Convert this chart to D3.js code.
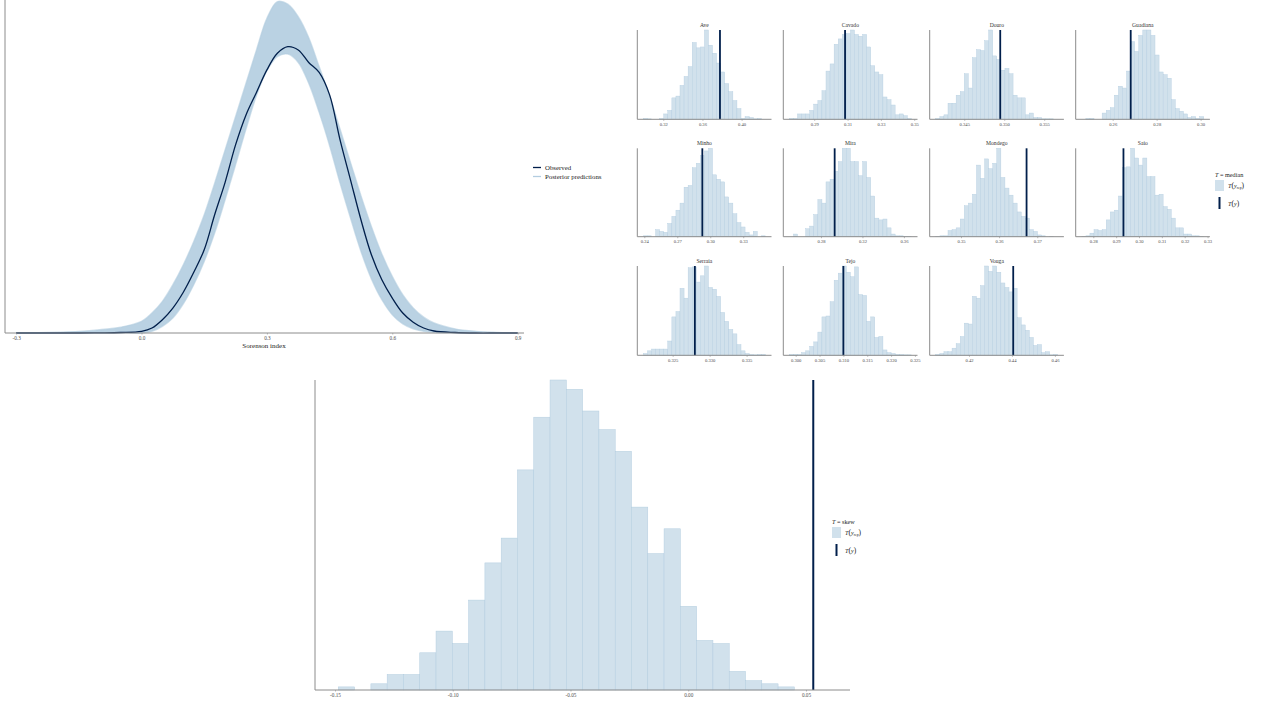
<!DOCTYPE html>
<html><head><meta charset="utf-8">
<script src="https://cdn.jsdelivr.net/npm/d3@7"></script>
<style>
body{margin:0;background:#fff}
svg{display:block}
text{font-family:"Liberation Serif","DejaVu Serif",serif}
</style></head>
<body><svg id="c" width="1269" height="711"></svg>
<script>
// ---------- DATA ----------
// density overlay (top-left)
const densX = [-0.3,-0.25,-0.2,-0.15,-0.1,-0.05,0,0.025,0.05,0.075,0.1,0.125,0.15,0.175,0.2,0.225,0.25,0.275,0.3,0.325,0.35,0.375,0.4,0.425,0.45,0.475,0.5,0.525,0.55,0.575,0.6,0.625,0.65,0.675,0.7,0.75,0.8,0.85,0.9];
const observed = [0,0,0,0,0.002,0.006,0.02,0.06,0.16,0.30,0.49,0.73,1.0,1.42,1.81,2.26,2.62,2.89,3.16,3.36,3.44,3.40,3.25,3.13,2.86,2.32,1.84,1.36,0.94,0.64,0.42,0.24,0.13,0.06,0.024,0.006,0,0,0];
const postUpper = [0.002,0.004,0.01,0.02,0.04,0.07,0.14,0.24,0.38,0.58,0.82,1.1,1.42,1.8,2.2,2.6,3.0,3.4,3.78,3.98,3.95,3.8,3.55,3.2,2.85,2.45,2.05,1.65,1.28,0.95,0.68,0.46,0.3,0.19,0.12,0.05,0.02,0.008,0.002];
const postLower = [0,0,0,0,0,0,0,0.02,0.08,0.18,0.35,0.58,0.86,1.2,1.6,2.02,2.45,2.85,3.15,3.32,3.35,3.25,3.0,2.65,2.25,1.8,1.38,0.98,0.65,0.4,0.22,0.11,0.05,0.02,0.008,0,0,0,0];
const densTicks = [-0.3,0,0.3,0.6,0.9];

// grouped medians (top-right facets)
const groups = ["Ave","Cavado","Douro","Guadiana","Minho","Mira","Mondego","Saio","Serraia","Tejo","Vouga"];
const groupRange = [[0.2997,0.4243],[0.2751,0.3483],[0.34144,0.3567],[0.24595,0.30145],[0.23918,0.35018],[0.24954,0.36723],[0.3434,0.37539],[0.27497,0.32836],[0.32104,0.33754],[0.29868,0.32426],[0.40456,0.46135]];
const groupTy = [0.3779,0.3085,0.3495,0.2682,0.2928,0.2932,0.3672,0.2932,0.3280,0.3100,0.4406];
const groupTicks = [[0.32,0.36,0.40],[0.29,0.31,0.33,0.35],[0.345,0.350,0.355],[0.26,0.28,0.30],[0.24,0.27,0.30,0.33],[0.28,0.32,0.36],[0.35,0.36,0.37],[0.28,0.29,0.30,0.31,0.32,0.33],[0.325,0.330,0.335],[0.300,0.305,0.310,0.315,0.320,0.325],[0.42,0.44,0.46]];
const groupTickDigits = [2,2,3,2,2,2,2,2,3,3,2];
const groupCounts = [
 [1,0.5,0,0,1,6,10,24,26,38,48,59,86,80,81,100,83,74,63,53,40,31,21,12,1,3,2,0.5,1,0],
 [1,1,6,6,6,10,17,21,32,54,62,84,90,95,96,100,95,93,95,81,60,53,50,25,22,16,5,6,4,1],
 [1,3,5,18,18,27,31,51,35,69,78,77,88,100,71,67,55,57,51,27,24,24,5,7,2,2,0.5,0.5,0.5,0],
 [0,1,1,0,0,7,10,13,27,37,35,54,87,76,94,100,100,94,72,53,50,46,22,12,9,6,2,3,1,3],
 [1,1,0,8,6,5,15,23,30,38,56,58,78,83,92,97,100,70,65,62,45,38,26,16,11,5,2,6,0,1],
 [0,3,0,0,9,12,25,42,38,62,65,74,85,100,100,85,85,69,85,67,46,21,19,20,10,3,1,1,0.5,0.5],
 [0.5,1,1,7,8,10,20,35,38,48,81,66,88,77,83,100,67,55,47,38,28,23,21,8,6,2,1,0,0.5,0],
 [0.5,1,4,8,7,8,19,28,30,46,78,79,100,89,81,89,68,68,47,48,34,31,21,10,10,3,3,1,1,0.5],
 [2,5,7,7,7,7,16,43,49,75,64,98,99,82,89,100,76,74,66,48,38,29,24,12,5,2,1,0.5,1,1],
 [1,1,1,3,5,10,15,26,43,44,60,84,92,100,93,88,99,68,67,38,43,20,21,6,3,2,1,1,0.5,0.5],
 [1,2,4,4,8,13,21,36,35,66,64,78,100,94,100,93,81,76,71,75,42,34,28,20,11,12,3,4,0.5,1]
];

// skew (bottom)
const skewStart = -0.1486, skewBinWidth = 0.006917;
const skewCounts = [1,0,2,5,5,12,19,15,29,41,49,71,88,100,97,90,84,77,59,44,52,27,16,15,6,3,2,1];
const skewTy = 0.0531;
const skewDomain = [-0.1585, 0.0687];
const skewTicks = [-0.15,-0.10,-0.05,0.00,0.05];

// ---------- STYLE ----------
const C_DARK = "#011f4b", C_LIGHT = "#d1e1ec", C_LIGHT_HI = "#b3cde0", AX = "#8c8c8c", TXT = "#4d4d4d";
const svg = d3.select("#c");
svg.append("rect").attr("width",1269).attr("height",711).attr("fill","#fff");
const fmt = dig => d => d.toFixed(dig).replace("\u2212","-");

function drawAxisBottom(g, scale, ticks, digits, y, fs){
  const ax = g.append("g").attr("transform",`translate(0,${y})`)
    .call(d3.axisBottom(scale).tickValues(ticks).tickFormat(fmt(digits)).tickSize(1.5).tickPadding(2));
  ax.select(".domain").remove();
  ax.selectAll(".tick line").attr("stroke",AX).attr("stroke-width",0.6);
  ax.selectAll(".tick text").attr("font-size",fs).attr("fill",TXT).attr("font-family","Liberation Serif, serif");
  const r = scale.range();
  g.append("line").attr("x1",r[0]).attr("x2",r[1]).attr("y1",y).attr("y2",y).attr("stroke",AX).attr("stroke-width",1);
}

// ---------- DENSITY OVERLAY ----------
{
  const g = svg.append("g");
  const x = d3.scaleLinear().domain([-0.3266,0.9151]).range([5,524]);
  const y = d3.scaleLinear().domain([0,4.0]).range([333,0]);
  const pts = densX.map((v,i)=>({v, up:postUpper[i], lo:postLower[i], ob:observed[i]}));
  g.append("path").datum(pts).attr("fill",C_LIGHT_HI).attr("opacity",0.9)
    .attr("d", d3.area().x(d=>x(d.v)).y0(d=>y(d.lo)).y1(d=>y(d.up)).curve(d3.curveCatmullRom));
  [["up"],["lo"]].forEach(([k])=>{
    g.append("path").datum(pts).attr("fill","none").attr("stroke",C_LIGHT_HI).attr("stroke-width",1.4).attr("opacity",0.6)
      .attr("d", d3.line().x(d=>x(d.v)).y(d=>y(d[k])).curve(d3.curveCatmullRom));
  });
  g.append("path").datum(pts).attr("fill","none").attr("stroke",C_DARK).attr("stroke-width",1.3)
    .attr("d", d3.line().x(d=>x(d.v)).y(d=>y(d.ob)).curve(d3.curveCatmullRom));
  g.append("line").attr("x1",5).attr("x2",5).attr("y1",0).attr("y2",333).attr("stroke",AX).attr("stroke-width",1);
  drawAxisBottom(g, x, densTicks, 1, 333, 5.2);
  g.append("text").attr("x",264).attr("y",348).attr("text-anchor","middle").attr("font-size",7).attr("fill","#222").text("Sorenson index");
  // legend
  const lg = [["Observed",C_DARK],["Posterior predictions",C_LIGHT_HI]];
  lg.forEach((d,i)=>{
    const yy = 167.5 + i*9;
    svg.append("line").attr("x1",533).attr("x2",541).attr("y1",yy).attr("y2",yy).attr("stroke",d[1]).attr("stroke-width",1.3);
    svg.append("text").attr("x",545).attr("y",yy+2.3).attr("font-size",6.8).attr("fill","#222").text(d[0]);
  });
}

// ---------- FACETS ----------
{
  const colL = [637.3,783.3,929.7,1075.7], W = 134.2;
  const rowT = [30,148.3,266], rowB = [119.3,236.7,355.3];
  groups.forEach((name,i)=>{
    const c = i%4, r = Math.floor(i/4);
    const g = svg.append("g");
    const [a,b] = groupRange[i];
    const pad = 0.05*(b-a);
    const x = d3.scaleLinear().domain([a-pad,b+pad]).range([colL[c],colL[c]+W]);
    const counts = groupCounts[i];
    const bw = (b-a)/counts.length;
    const y = d3.scaleLinear().domain([0,d3.max(counts)]).range([rowB[r],rowT[r]]);
    g.selectAll("rect").data(counts).join("rect")
      .attr("x",(d,k)=>x(a+k*bw)).attr("width",(d,k)=>x(a+(k+1)*bw)-x(a+k*bw))
      .attr("y",d=>y(d)).attr("height",d=>y(0)-y(d))
      .attr("fill",C_LIGHT).attr("stroke",C_LIGHT_HI).attr("stroke-width",0.4);
    g.append("line").attr("x1",x(groupTy[i])).attr("x2",x(groupTy[i])).attr("y1",rowT[r]).attr("y2",rowB[r])
      .attr("stroke",C_DARK).attr("stroke-width",1.8);
    g.append("line").attr("x1",colL[c]).attr("x2",colL[c]).attr("y1",rowT[r]).attr("y2",rowB[r]).attr("stroke",AX).attr("stroke-width",1);
    drawAxisBottom(g, x, groupTicks[i], groupTickDigits[i], rowB[r], 4.6);
    g.append("text").attr("x",colL[c]+W/2).attr("y",rowT[r]-3.5).attr("text-anchor","middle").attr("font-size",5.6).attr("fill","#333").text(name);
  });
}

// ---------- legend helper ----------
function statLegend(x0, y0, label){
  const t = svg.append("text").attr("x",x0).attr("y",y0).attr("font-size",6.2).attr("fill","#222");
  t.append("tspan").attr("font-style","italic").text("T");
  t.append("tspan").text(" = "+label);
  svg.append("rect").attr("x",x0).attr("y",y0+3).attr("width",9).attr("height",11).attr("fill",C_LIGHT);
  const t2 = svg.append("text").attr("x",x0+13).attr("y",y0+10.5).attr("font-size",6.2).attr("fill","#222");
  t2.append("tspan").attr("font-style","italic").text("T");
  t2.append("tspan").attr("font-size",7.5).text("(");
  t2.append("tspan").attr("font-style","italic").text("y");
  t2.append("tspan").attr("font-size",3.8).attr("dy",1.5).text("rep");
  t2.append("tspan").attr("font-size",7.5).attr("dy",-1.5).text(")");
  svg.append("line").attr("x1",x0+4.5).attr("x2",x0+4.5).attr("y1",y0+20).attr("y2",y0+32).attr("stroke",C_DARK).attr("stroke-width",2);
  const t3 = svg.append("text").attr("x",x0+13).attr("y",y0+28.5).attr("font-size",6.2).attr("fill","#222");
  t3.append("tspan").attr("font-style","italic").text("T");
  t3.append("tspan").attr("font-size",7.5).text("(");
  t3.append("tspan").attr("font-style","italic").text("y");
  t3.append("tspan").attr("font-size",7.5).text(")");
}
statLegend(1215, 177, "median");

// ---------- SKEW HISTOGRAM ----------
{
  const g = svg.append("g");
  const x = d3.scaleLinear().domain(skewDomain).range([315,850]);
  const y = d3.scaleLinear().domain([0,d3.max(skewCounts)]).range([690,380]);
  g.selectAll("rect").data(skewCounts).join("rect")
    .attr("x",(d,k)=>x(skewStart+k*skewBinWidth)).attr("width",(d,k)=>x(skewStart+(k+1)*skewBinWidth)-x(skewStart+k*skewBinWidth))
    .attr("y",d=>y(d)).attr("height",d=>y(0)-y(d))
    .attr("fill",C_LIGHT).attr("stroke",C_LIGHT_HI).attr("stroke-width",0.5);
  g.append("line").attr("x1",x(skewTy)).attr("x2",x(skewTy)).attr("y1",380).attr("y2",690).attr("stroke",C_DARK).attr("stroke-width",2);
  g.append("line").attr("x1",315).attr("x2",315).attr("y1",380).attr("y2",690).attr("stroke",AX).attr("stroke-width",1);
  drawAxisBottom(g, x, skewTicks, 2, 690, 5.2);
}
statLegend(832, 524, "skew");
</script></body></html>
